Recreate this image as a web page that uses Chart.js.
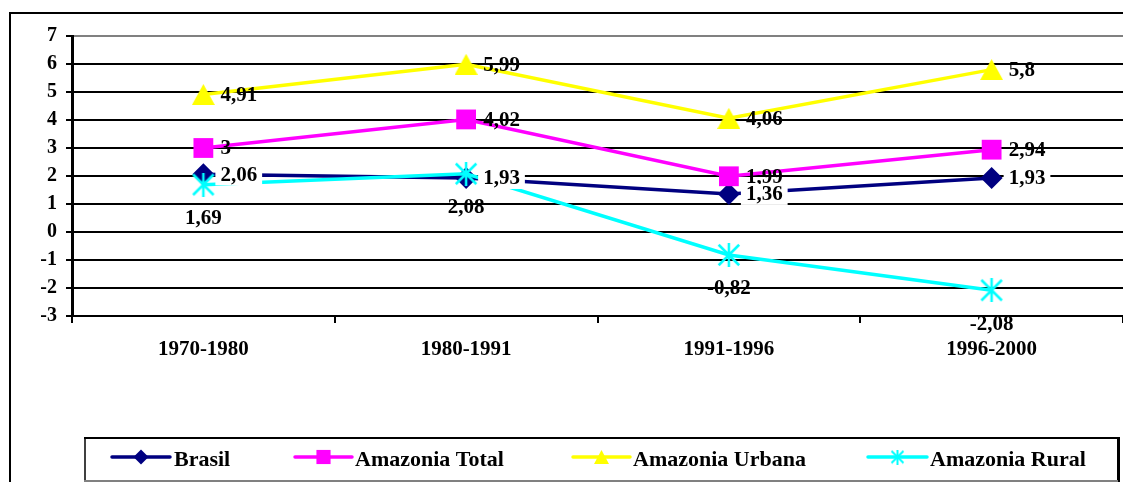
<!DOCTYPE html>
<html><head><meta charset="utf-8">
<script src="https://cdn.jsdelivr.net/npm/chart.js@4.4.0/dist/chart.umd.min.js"></script>
<style>html,body{margin:0;padding:0;background:#fff;overflow:hidden}#wrap{width:1123px;height:482px;position:relative}</style>
</head><body><div id="wrap"><canvas id="c" width="1123" height="482"></canvas></div>
<script>
const categories = ['1970-1980', '1980-1991', '1991-1996', '1996-2000'];
const brasil = [2.06, 1.93, 1.36, 1.93];
const amazoniaTotal = [3, 4.02, 1.99, 2.94];
const amazoniaUrbana = [4.91, 5.99, 4.06, 5.8];
const amazoniaRural = [1.69, 2.08, -0.82, -2.08];
const seriesNames = ['Brasil', 'Amazonia Total', 'Amazonia Urbana', 'Amazonia Rural'];
const yMin = -3, yMax = 7, yStep = 1;

const FONT = 'Liberation Serif, Times New Roman, serif';
const colors = ['#000080', '#FF00FF', '#FFFF00', '#00FFFF'];

function makeStar(color, s, lw) {
  const c = document.createElement('canvas'); c.width = s; c.height = s;
  const g = c.getContext('2d'); g.strokeStyle = color; g.lineWidth = lw; g.lineCap = 'butt';
  const m = s / 2, p = lw / 2 + 0.5;
  g.beginPath();
  g.moveTo(m, 0); g.lineTo(m, s);
  g.moveTo(p, p); g.lineTo(s - p, s - p);
  g.moveTo(s - p, p); g.lineTo(p, s - p);
  g.stroke();
  return c;
}
function makeTri(color, w, h) {
  const c = document.createElement('canvas'); c.width = w; c.height = h;
  const g = c.getContext('2d'); g.fillStyle = color;
  g.beginPath(); g.moveTo(w / 2, 0); g.lineTo(w, h); g.lineTo(0, h); g.closePath(); g.fill();
  return c;
}
const starBig = makeStar(colors[3], 24, 2.5);
const starSmall = makeStar(colors[3], 15, 2);
const triBig = makeTri(colors[2], 23, 21);
const triSmall = makeTri(colors[2], 15, 14);

const fmt = v => String(v).replace('.', ',');

const outerBorder = {
  id: 'outerBorder',
  beforeDraw(chart) {
    const ctx = chart.ctx;
    ctx.save();
    ctx.fillStyle = '#fff'; ctx.fillRect(0, 0, chart.width, chart.height);
    ctx.strokeStyle = '#000'; ctx.lineWidth = 2;
    ctx.strokeRect(10, 13, 1300, 700);
    ctx.restore();
  }
};

const dataLabels = {
  id: 'dataLabels',
  afterDatasetsDraw(chart) {
    const ctx = chart.ctx;
    ctx.save();
    ctx.font = 'bold 21px ' + FONT;
    ctx.fillStyle = '#000';
    const drawOrder = [1, 2, 3, 0];
    drawOrder.forEach(i => {
      const meta = chart.getDatasetMeta(i);
      const vals = chart.data.datasets[i].data;
      meta.data.forEach((el, j) => {
        const t = fmt(vals[j]);
        if (i === 3) {
          ctx.textAlign = 'center'; ctx.textBaseline = 'middle';
          ctx.fillStyle = '#000';
          ctx.fillText(t, el.x, el.y + 34);
        } else {
          ctx.textAlign = 'left'; ctx.textBaseline = 'middle';
          const tx = el.x + 17;
          if (i === 0) {
            const w = ctx.measureText(t).width;
            ctx.fillStyle = '#fff';
            ctx.fillRect(tx - 5, el.y - 10, w + 10, 21);
          }
          ctx.fillStyle = '#000';
          ctx.fillText(t, tx, el.y + 1);
        }
      });
    });
    ctx.restore();
  }
};

const customLegend = {
  id: 'customLegend',
  afterDraw(chart) {
    const ctx = chart.ctx;
    ctx.save();
    const L = 84, T = 437, R = 1118, B = 481;
    ctx.fillStyle = '#fff'; ctx.fillRect(L, T, R - L, B - T);
    ctx.lineWidth = 2; ctx.strokeStyle = '#000';
    ctx.beginPath(); ctx.moveTo(L, T + 1); ctx.lineTo(R + 2, T + 1); ctx.stroke();
    ctx.lineWidth = 1.5;
    ctx.beginPath(); ctx.moveTo(L + 1, T); ctx.lineTo(L + 1, B + 2); ctx.stroke();
    ctx.lineWidth = 3;
    ctx.beginPath(); ctx.moveTo(R + 0.5, T); ctx.lineTo(R + 0.5, B + 2); ctx.stroke();
    ctx.lineWidth = 2; ctx.strokeStyle = '#808080';
    ctx.beginPath(); ctx.moveTo(L, B); ctx.lineTo(R, B); ctx.stroke();

    const items = [
      { x1: 112, x2: 170, tx: 174, style: 'rectRot', r: 7.5 },
      { x1: 295, x2: 352, tx: 355, style: 'rect', r: 10 },
      { x1: 573, x2: 630, tx: 633, style: triSmall, r: 7 },
      { x1: 868, x2: 927, tx: 930, style: starSmall, r: 7 }
    ];
    const ly = 457;
    items.forEach((it, i) => {
      ctx.strokeStyle = colors[i]; ctx.lineWidth = 3.5; ctx.lineCap = 'round';
      ctx.beginPath(); ctx.moveTo(it.x1, ly); ctx.lineTo(it.x2, ly); ctx.stroke();
      ctx.fillStyle = colors[i];
      Chart.helpers.drawPoint(ctx, { pointStyle: it.style, radius: it.r, rotation: 0, borderWidth: 0 }, (it.x1 + it.x2) / 2, ly);
      ctx.fillStyle = '#000';
      ctx.font = 'bold 22px ' + FONT;
      ctx.textAlign = 'left'; ctx.textBaseline = 'middle';
      ctx.fillText(seriesNames[i], it.tx, ly + 3);
    });
    ctx.restore();
  }
};

const tickFont = { family: FONT, size: 20, weight: 'bold' };
const xTickFont = { family: FONT, size: 21, weight: 'bold' };

new Chart(document.getElementById('c'), {
  type: 'line',
  data: {
    labels: categories,
    datasets: [
      { label: seriesNames[0], data: brasil, borderColor: colors[0], backgroundColor: colors[0], pointStyle: 'rectRot', pointRadius: 11, pointBorderWidth: 0, borderWidth: 3.5, order: 4 },
      { label: seriesNames[1], data: amazoniaTotal, borderColor: colors[1], backgroundColor: colors[1], pointStyle: 'rect', pointRadius: 14, pointBorderWidth: 0, borderWidth: 3.5, order: 3 },
      { label: seriesNames[2], data: amazoniaUrbana, borderColor: colors[2], backgroundColor: colors[2], pointStyle: triBig, pointRadius: 12, pointBorderWidth: 0, borderWidth: 3.5, order: 2 },
      { label: seriesNames[3], data: amazoniaRural, borderColor: colors[3], backgroundColor: colors[3], pointStyle: starBig, pointRadius: 12, pointBorderWidth: 0, borderWidth: 3.5, order: 1 }
    ]
  },
  options: {
    responsive: false,
    animation: false,
    devicePixelRatio: 1,
    layout: { autoPadding: false, padding: { top: 36, left: 0, right: 0, bottom: 0 } },
    plugins: { legend: { display: false }, tooltip: { enabled: false } },
    elements: { line: { tension: 0 } },
    scales: {
      x: {
        type: 'category', offset: true,
        grid: { offset: true, drawOnChartArea: false, drawTicks: true, tickLength: 7, color: '#000', lineWidth: 2 },
        border: { display: true, color: '#000', width: 2 },
        ticks: { color: '#000', font: xTickFont, padding: 14, maxRotation: 0, autoSkip: false },
        afterFit(s) { s.height = 166; s.paddingLeft = 0; s.paddingRight = 0; }
      },
      y: {
        min: yMin, max: yMax,
        ticks: { stepSize: yStep, color: '#000', font: tickFont, padding: 9 },
        grid: { color: c => (c.tick && c.tick.value === yMax) ? '#808080' : '#000', tickColor: '#000', lineWidth: 2, tickLength: 6, drawTicks: true },
        border: { display: true, color: '#000', width: 3 },
        afterFit(s) { s.width = 72; }
      }
    }
  },
  plugins: [outerBorder, dataLabels, customLegend]
});
</script>
</body></html>
